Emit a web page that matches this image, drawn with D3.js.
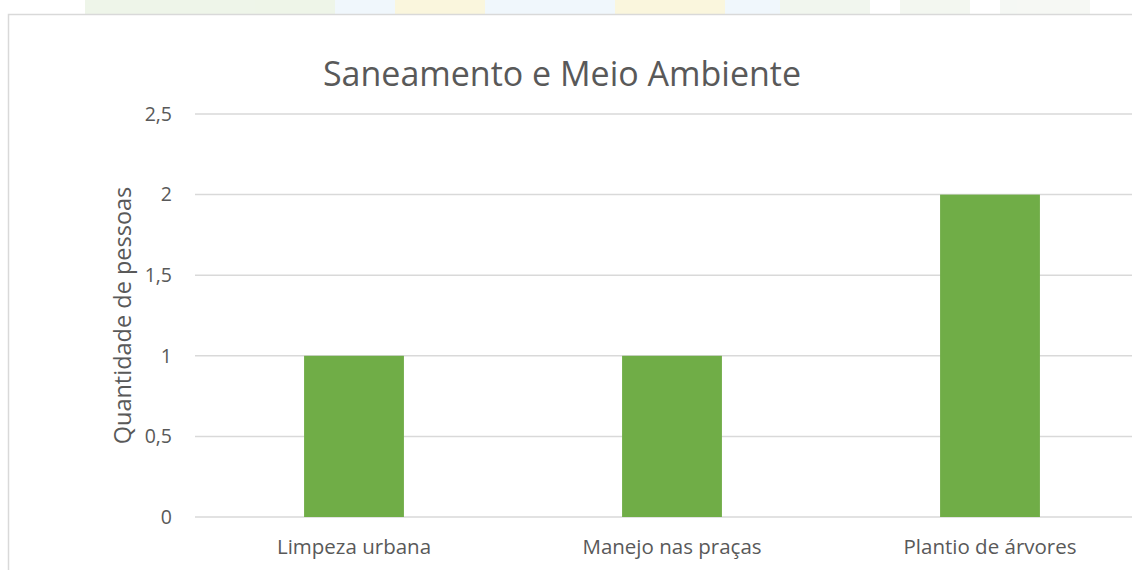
<!DOCTYPE html>
<html>
<head>
<meta charset="utf-8">
<script src="https://cdn.jsdelivr.net/npm/d3@7"></script>
<style>
  html, body { margin: 0; padding: 0; background: #fff; }
  svg { display: block; }
  text { font-family: "Open Sans", "Noto Sans", sans-serif; fill: #595959; }
</style>
</head>
<body>
<svg id="chart" width="1132" height="570"></svg>
<script>
const categories = ["Limpeza urbana", "Manejo nas praças", "Plantio de árvores"];
const values = [1, 1, 2];
const yTicks = [0, 0.5, 1, 1.5, 2, 2.5];
const yTickLabels = ["0", "0,5", "1", "1,5", "2", "2,5"];
const chartTitle = "Saneamento e Meio Ambiente";
const yAxisTitle = "Quantidade de pessoas";

const svg = d3.select("#chart");
const W = 1132, H = 570;

// faint watermark strip above the chart frame
const wm = svg.append("g").attr("opacity", 0.35);
const wmPieces = [
  {x: 85, w: 250, c: "#cfe3c0"},
  {x: 335, w: 460, c: "#d6e9f7"},
  {x: 395, w: 90, c: "#f3e7a0"},
  {x: 615, w: 110, c: "#f3e7a0"},
  {x: 780, w: 90, c: "#d8e6cf"},
  {x: 900, w: 70, c: "#dfe9d6"},
  {x: 1000, w: 90, c: "#e4ece0"}
];
wm.selectAll("rect").data(wmPieces).join("rect")
  .attr("x", d => d.x).attr("y", 0).attr("width", d => d.w).attr("height", 14)
  .attr("fill", d => d.c);

// chart frame
svg.append("rect")
  .attr("x", 8.5).attr("y", 14.5).attr("width", W + 20).attr("height", H + 20)
  .attr("fill", "#fff").attr("stroke", "#d9d9d9").attr("stroke-width", 1.5);

const plot = {left: 195, right: 1149, top: 114, bottom: 517};

const x = d3.scaleBand()
  .domain(categories)
  .range([plot.left, plot.right])
  .paddingInner(0.686)
  .paddingOuter(0.343);

const y = d3.scaleLinear()
  .domain([0, 2.5])
  .range([plot.bottom, plot.top]);

// gridlines
svg.append("g").selectAll("line").data(yTicks).join("line")
  .attr("x1", plot.left).attr("x2", plot.right)
  .attr("y1", d => y(d)).attr("y2", d => y(d))
  .attr("stroke", "#d9d9d9").attr("stroke-width", 1.5);

// y axis labels
const yAxis = d3.axisLeft(y).tickValues(yTicks)
  .tickFormat((d, i) => yTickLabels[i]).tickSize(0).tickPadding(23);
const yg = svg.append("g").attr("transform", `translate(${plot.left},0)`).call(yAxis);
yg.select(".domain").remove();
yg.selectAll("text").style("font-size", "19.5px").attr("fill", "#595959")
  .style("font-family", '"Open Sans", sans-serif');

// bars
svg.append("g").selectAll("rect").data(values).join("rect")
  .attr("x", (d, i) => x(categories[i]))
  .attr("y", d => y(d))
  .attr("width", x.bandwidth())
  .attr("height", d => y(0) - y(d))
  .attr("fill", "#70ad47");

// x axis labels
const xAxis = d3.axisBottom(x).tickSize(0).tickPadding(22);
const xg = svg.append("g").attr("transform", `translate(0,${plot.bottom})`).call(xAxis);
xg.select(".domain").remove();
xg.selectAll("text").style("font-size", "20.5px").attr("fill", "#595959")
  .style("font-family", '"Open Sans", sans-serif');

// title
svg.append("text")
  .attr("x", 562).attr("y", 86)
  .attr("text-anchor", "middle")
  .style("font-size", "34px")
  .text(chartTitle);

// y axis title
svg.append("text")
  .attr("transform", `translate(131,${(plot.top + plot.bottom) / 2}) rotate(-90)`)
  .attr("text-anchor", "middle")
  .style("font-size", "23.5px")
  .text(yAxisTitle);
</script>
</body>
</html>
